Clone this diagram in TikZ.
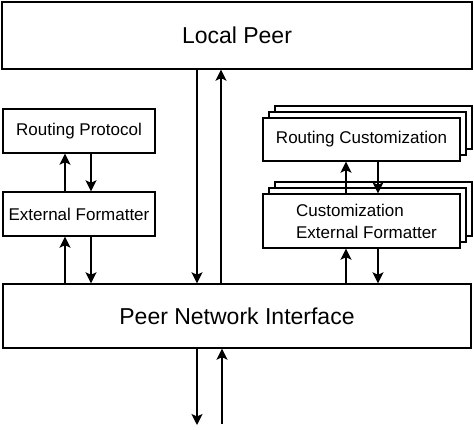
\documentclass[tikz,border=0pt]{standalone}
\usepackage{fontspec}
\setmainfont{Liberation Sans}
\usetikzlibrary{arrows.meta,shadows}

\begin{document}
\begin{tikzpicture}
		[x=1pt,y=-1pt,line width=1.4pt,
		%Styles
		layer box/.style={rectangle,draw,fill=white,inner sep=0pt},
		big text/.style={font=\fontsize{23}{27}\selectfont},
		small text/.style={font=\fontsize{17}{22}\selectfont},
		stacked box/.style={layer box,
			copy shadow={shadow xshift=12pt,shadow yshift=12pt,draw,fill=white},
			copy shadow={shadow xshift=6pt,shadow yshift=6pt,draw,fill=white}},
		flow/.style={-{Stealth[length=11pt,width=11pt,inset=2.5pt]}}
		]
		\useasboundingbox (0,0) rectangle (474,430);
		
		%The graphic
		\node[layer box,minimum width=470pt,minimum height=67pt,big text] (local) at (237,35.5) {Local Peer};
		\node[layer box,minimum width=468pt,minimum height=64pt,big text] (pni) at (237,316) {Peer Network Interface};
		
		\node[layer box,minimum width=152pt,minimum height=44pt,small text] (rp) at (79,131) {Routing Protocol};
		\node[layer box,minimum width=152pt,minimum height=44pt,small text] (ef) at (79,214) {External Formatter};
		
		\node[stacked box,minimum width=197pt,minimum height=43pt,small text] (rc) at (361.5,139.5) {Routing Customization};
		\node[stacked box,minimum width=197pt,minimum height=54pt,small text,align=left] (cef) at (361.5,221)
			{\hspace*{10pt}Customization\\\hspace*{10pt}External Formatter};
		
		\coordinate (net out) at (197,425);
		\coordinate (net in) at (222,424);
		
		\path[flow]
			([xshift=-40pt]local.south)	edge	([xshift=-40pt]local.south |- pni.north)
			([xshift=-16pt]local.south |- pni.north)	edge	([xshift=-16pt]local.south)
			([xshift=-14pt]rp.south |- ef.north)	edge	([xshift=-14pt]rp.south)
			([xshift=12pt]rp.south)	edge	([xshift=12pt]rp.south |- ef.north)
			([xshift=-14pt]ef.south |- pni.north)	edge	([xshift=-14pt]ef.south)
			([xshift=12pt]ef.south)	edge	([xshift=12pt]ef.south |- pni.north)
			([xshift=-15.5pt]rc.south |- cef.north)	edge	([xshift=-15.5pt]rc.south)
			([xshift=16.5pt]rc.south)	edge	([xshift=16.5pt]rc.south |- cef.north)
			([xshift=-15.5pt]cef.south |- pni.north)	edge	([xshift=-15.5pt]cef.south)
			([xshift=16.5pt]cef.south)	edge	([xshift=16.5pt]cef.south |- pni.north)
			([xshift=-40pt]pni.south)	edge	(net out)
			(net in)	edge	([xshift=-15pt]pni.south);
	\end{tikzpicture}
\end{document}
